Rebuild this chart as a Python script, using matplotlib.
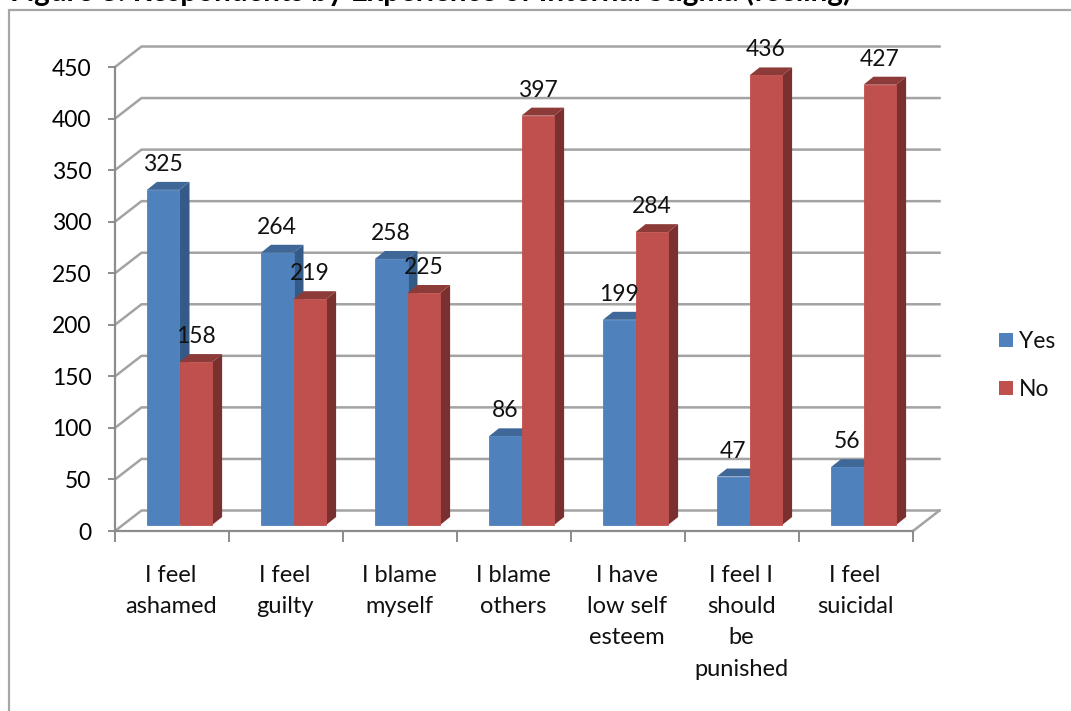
import numpy as np
import matplotlib
matplotlib.use('Agg')
import matplotlib.pyplot as plt
from matplotlib.patches import Rectangle

categories = ['I feel\nashamed', 'I feel\nguilty', 'I blame\nmyself', 'I blame\nothers',
              'I have\nlow self\nesteem', 'I feel I\nshould\nbe\npunished', 'I feel\nsuicidal']
yes_values = [325, 264, 258, 86, 199, 47, 56]
no_values = [158, 219, 225, 397, 284, 436, 427]
y_ticks = [0, 50, 100, 150, 200, 250, 300, 350, 400, 450]
title = 'Figure 8: Respondents by Experience of Internal Stigma (feeling)'

W, H = 1071, 711
plt.rcParams['font.family'] = ['Lato', 'DejaVu Sans']

fig = plt.figure(figsize=(W / 100, H / 100), dpi=100)

# outer chart frame runs off the right and bottom edges
fig.add_artist(Rectangle((8.5 / W, -0.05), 1.2, 1 - 9.5 / H + 0.05, transform=fig.transFigure,
                         fill=False, edgecolor='#a6a6a6', linewidth=1.6))
# title sits mostly above the top edge
fig.text(10 / W, 1 - 1.5 / H, title, fontsize=21.3, fontweight='bold', color='black',
         va='baseline', ha='left')

# front plane of the plot box in pixels: x 115-913, y 531-67
ax = fig.add_axes([115 / W, 1 - 531 / H, 798 / W, 464 / H])
ax.set_xlim(0, 7)
ax.set_ylim(0, 450)
ax.patch.set_visible(False)
for s in ['top', 'right']:
    ax.spines[s].set_visible(False)
for s in ['left', 'bottom']:
    ax.spines[s].set_color('#8c8c8c')
    ax.spines[s].set_linewidth(1.6)

grid_color = '#a3a3a3'
px_x = 7 / 798
px_y = 450 / 464
dx, dy = 26.5 * px_x, 20.5 * px_y   # depth of the box

# back wall gridlines and the left wall / floor diagonals
for v in y_ticks:
    ax.plot([0, dx, 7 + dx], [v, v + dy, v + dy], color=grid_color, lw=1.8, clip_on=False,
            solid_joinstyle='miter', zorder=1)
ax.plot([7, 7 + dx], [0, dy], color=grid_color, lw=1.8, clip_on=False, zorder=1)

# bars stand a little way into the floor
base_x, base_y = 7.5 * px_x, 6 * px_y
bar_w = 32.6 * px_x
side_x, side_y = 10 * px_x, 8 * px_y
x = np.arange(len(categories)) + 0.5 + base_x

series = [(x - bar_w / 2, yes_values, '#4f81bd', '#345a87', '#3f6797', 3),
          (x + bar_w / 2, no_values, '#c0504d', '#7a302e', '#8c3b39', 4)]
label_offset = 15
for xs, vals, front, side, top, z in series:
    ax.bar(xs, vals, bar_w, bottom=base_y, color=front, edgecolor=front, linewidth=0.6, zorder=z + 0.2,
           clip_on=False)
    for xc, v in zip(xs, vals):
        left, right = xc - bar_w / 2, xc + bar_w / 2
        ytop = base_y + v
        ax.fill([right, right + side_x, right + side_x, right],
                [base_y, base_y + side_y, ytop + side_y, ytop], color=side, lw=0, zorder=z, clip_on=False)
        ax.fill([left, left + side_x, right + side_x, right],
                [ytop, ytop + side_y, ytop + side_y, ytop], color=top, lw=0, zorder=z, clip_on=False)
        ax.annotate(str(v), (xc, ytop), xytext=(0, label_offset), textcoords='offset pixels',
                    ha='center', va='bottom', fontsize=16.5, color='#111111', zorder=6, annotation_clip=False)

ax.set_yticks(y_ticks)
ax.set_xticks(np.arange(len(categories) + 1))
ax.set_xticklabels([])
ax.tick_params(axis='y', length=5, width=1.4, color='#8c8c8c', labelsize=16.5, pad=12)
ax.tick_params(axis='x', length=8, width=1.4, color='#8c8c8c')

# category labels under the front edge
for i, c in enumerate(categories):
    ax.annotate(c, (i + 0.5, 0), xytext=(-1, -34), textcoords='offset pixels', ha='center', va='top',
                fontsize=17, linespacing=1.6, color='#111111', annotation_clip=False)

# legend
for name, color, ypx in [('Yes', '#4f81bd', 340), ('No', '#c0504d', 388)]:
    fig.add_artist(Rectangle((999 / W, 1 - (ypx + 7) / H), 14 / W, 14 / H, transform=fig.transFigure,
                             facecolor=color, edgecolor='none'))
    fig.text(1019 / W, 1 - (ypx + 1) / H, name, fontsize=16.5, va='center', ha='left', color='#111111')

fig.savefig('out.png', dpi=100)
